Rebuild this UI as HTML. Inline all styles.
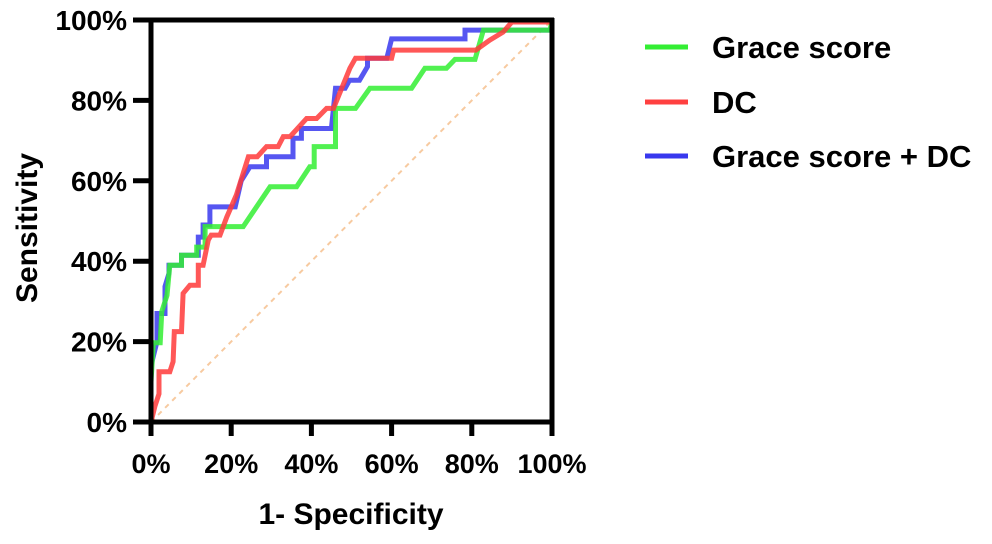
<!DOCTYPE html>
<html><head><meta charset="utf-8">
<style>
html,body{margin:0;padding:0;background:#fff;}
svg{display:block;font-family:"Liberation Sans",Arial,sans-serif;font-weight:bold;}
</style></head>
<body>
<svg id="chart" width="992" height="544" viewBox="0 0 992 544" xmlns="http://www.w3.org/2000/svg">
<g id="plot"></g>
<g id="axes"></g>
<text x="351" y="524" font-size="30" text-anchor="middle">1- Specificity</text>
<text transform="translate(37,228) rotate(-90)" font-size="30" text-anchor="middle">Sensitivity</text>
<g>
<line x1="645" y1="47" x2="688" y2="47" stroke="#33ee33" stroke-width="5"/>
<text x="712" y="58" font-size="31">Grace score</text>
<line x1="645" y1="102" x2="688" y2="102" stroke="#ff4040" stroke-width="5"/>
<text x="712" y="113" font-size="31">DC</text>
<line x1="645" y1="156" x2="688" y2="156" stroke="#3838ee" stroke-width="5"/>
<text x="712" y="167" font-size="31">Grace score + DC</text>
</g>
</svg>
<script>
const xTicks = [0, 20, 40, 60, 80, 100];
const yTicks = [0, 20, 40, 60, 80, 100];
const tickLabels = ["0%", "20%", "40%", "60%", "80%", "100%"];
const graceFpr = [0,0,0.6,2.3,2.7,4,4.7,7.6,7.6,11.4,11.4,13.5,13.5,23,29.7,36.3,39.6,40.7,40.7,45.6,46,46,51,54.6,65,68.3,73.7,75.8,80.8,82.9,99.5,100];
const graceTpr = [0,10,19.7,19.7,27.5,31.5,39,39,41.5,41.5,43.5,43.5,48.6,48.6,58.5,58.5,63.5,63.5,68.5,68.5,68.5,78,78,83,83,88,88,90.2,90.2,97.5,97.5,100];
const dcFpr = [0,1,2,2,4.7,5.5,5.8,7.6,8,9.7,11.8,11.8,13,14.3,15,17.2,18.9,21.3,24.3,26.5,28.8,31.7,33,34.7,38.8,41.3,43.8,45.5,49.6,51,60,60.5,81,84.5,87.8,90,100,100];
const dcTpr = [0,4,7,12.5,12.5,15,22.5,22.5,32,34,34,39,39,45.3,46.5,46.5,51,56.5,66,66,68.5,68.5,71,71,75.5,75.5,78,78,88,90.5,90.5,92.5,92.5,95,97,99.5,99.5,100];
const comboFpr = [0,0,1.5,1.5,3.5,3.5,4.5,4.5,7.6,7.6,11.8,11.8,13,13,14.7,14.7,21,22.5,24.7,28.8,28.8,35.4,35.4,37.5,37.5,45,46,48.4,49.5,52,54,54,58.8,60,78.3,78.3,100,100];
const comboTpr = [0,14,20,27,27,33.7,37,39,39,41.5,41.5,46,46,49,49,53.5,53.5,60,63.5,63.5,66,66,70.6,70.6,73,73,83,83,85,85,88.4,90.5,90.5,95.3,95.3,97.5,97.5,100];

const X0 = 151, X1 = 552, Y0 = 422, Y1 = 20;
const sx = v => X0 + (X1 - X0) * v / 100;
const sy = v => Y0 - (Y0 - Y1) * v / 100;
const NS = "http://www.w3.org/2000/svg";
const plot = document.getElementById('plot');
const axes = document.getElementById('axes');

const diag = document.createElementNS(NS, 'line');


diag.setAttribute('x1', sx(0)); diag.setAttribute('y1', sy(0));
diag.setAttribute('x2', sx(100)); diag.setAttribute('y2', sy(100));
diag.setAttribute('stroke', '#f7caa0'); diag.setAttribute('stroke-width', '2');
diag.setAttribute('stroke-dasharray', '5,5');
plot.appendChild(diag);

function drawSeries(fpr, tpr, color, name) {
  const p = document.createElementNS(NS, 'polyline');
  
  
  p.setAttribute('points', fpr.map((f, i) => sx(f).toFixed(1) + ',' + sy(tpr[i]).toFixed(1)).join(' '));
  p.setAttribute('fill', 'none');
  p.setAttribute('stroke', color);
  p.setAttribute('stroke-width', '5');
  p.setAttribute('stroke-opacity', '0.85');
  p.setAttribute('stroke-linejoin', 'miter');
  plot.appendChild(p);
}
drawSeries(comboFpr, comboTpr, '#3838ee', 'series-grace-plus-dc');
drawSeries(graceFpr, graceTpr, '#33ee33', 'series-grace-score');
drawSeries(dcFpr, dcTpr, '#ff3a3a', 'series-dc');

function mkLine(x1, y1, x2, y2, w, name) {
  const l = document.createElementNS(NS, 'line');
  
  
  l.setAttribute('x1', x1); l.setAttribute('y1', y1);
  l.setAttribute('x2', x2); l.setAttribute('y2', y2);
  l.setAttribute('stroke', '#000'); l.setAttribute('stroke-width', w);
  axes.appendChild(l);
}
mkLine(X0, Y1 - 2, X0, Y0 + 14, 5, 'y-axis-line');
mkLine(X0 - 18, Y0, X1 + 2, Y0, 5, 'x-axis-line');
mkLine(X0 - 18, Y1, X1 + 2, Y1, 5, 'top-frame');
mkLine(X1, Y1 - 2, X1, Y0 + 14, 5, 'right-frame');

xTicks.forEach((v, i) => {
  mkLine(sx(v), Y0, sx(v), Y0 + 14, 5, 'x-tick');
  const t = document.createElementNS(NS, 'text');
  
  
  t.setAttribute('x', sx(v)); t.setAttribute('y', 473);
  t.setAttribute('font-size', '27'); t.setAttribute('text-anchor', 'middle');
  t.textContent = tickLabels[i];
  axes.appendChild(t);
});
yTicks.forEach((v, i) => {
  mkLine(X0 - 18, sy(v), X0, sy(v), 5, 'y-tick');
  const t = document.createElementNS(NS, 'text');
  
  
  t.setAttribute('x', 127); t.setAttribute('y', sy(v) + 10);
  t.setAttribute('font-size', '28'); t.setAttribute('text-anchor', 'end');
  t.textContent = tickLabels[i];
  axes.appendChild(t);
});
</script>
</body></html>
